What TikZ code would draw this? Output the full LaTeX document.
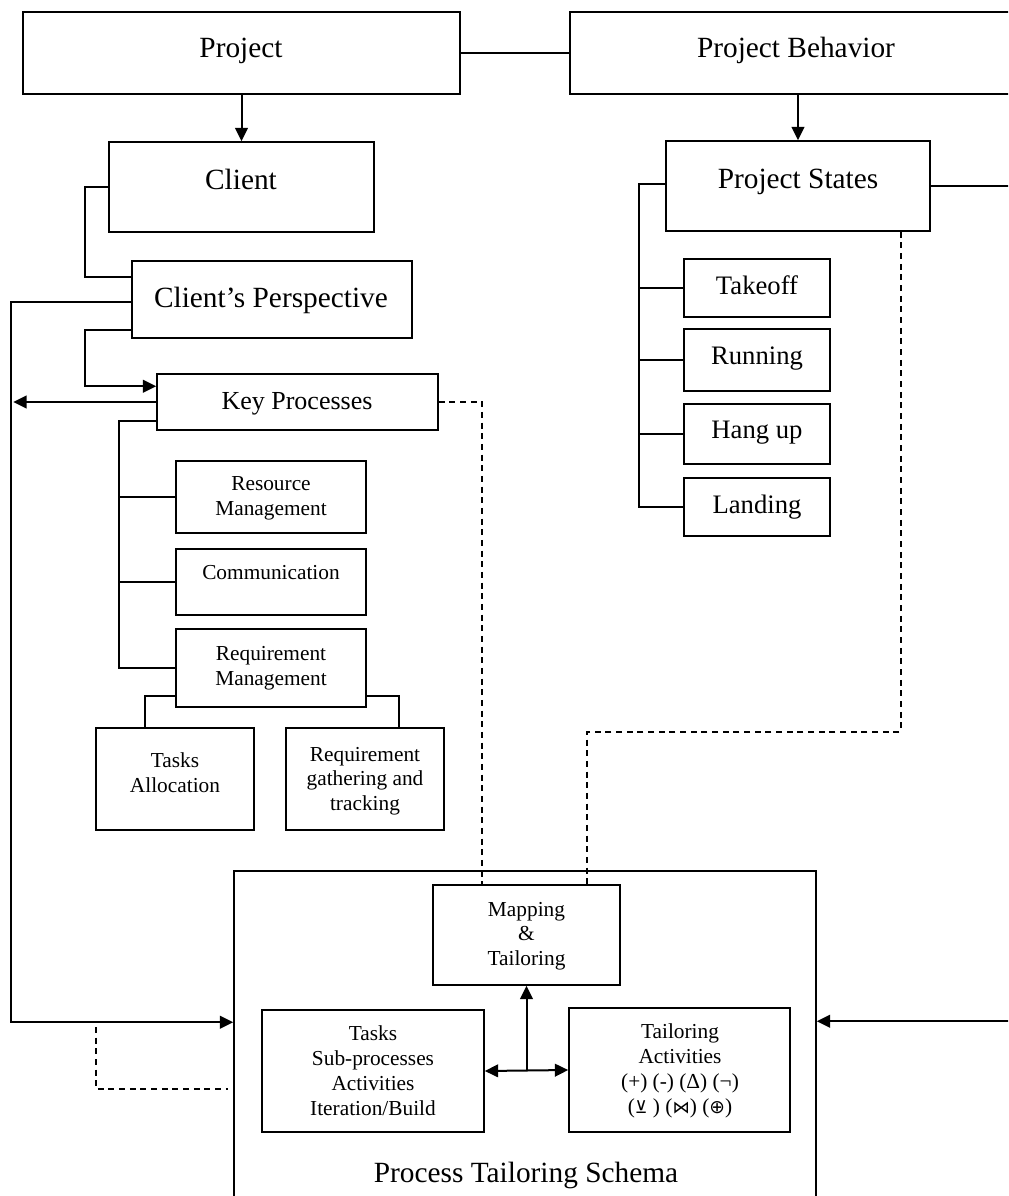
\documentclass[tikz,border=0pt]{standalone}
\usepackage{fontspec}
\setmainfont{Liberation Serif}
\newfontfamily\symfont{DejaVu Sans}
\usetikzlibrary{arrows.meta,calc}
\begin{document}
\begin{tikzpicture}[x=0.75pt,y=-0.75pt,
  box/.style={draw,line width=1.2pt,inner sep=0pt},
  sz/.style 2 args={minimum width=#1*0.75pt,minimum height=#2*0.75pt},
  txt/.style={anchor=base,inner sep=0pt,align=center},
  big/.style={font=\fontsize{22}{26}\selectfont},
  mid/.style={font=\fontsize{20}{24}\selectfont},
  sml/.style={font=\fontsize{16}{18.2}\selectfont},
  ln/.style={line width=1.4pt},
  arr/.style={line width=1.5pt,-{Triangle[length=10pt,width=9.5pt]}},
  darr/.style={line width=1.5pt,{Triangle[length=10pt,width=9.5pt]}-{Triangle[length=10pt,width=9.5pt]}},
  dsh/.style={line width=1.1pt,dash pattern=on 4.5pt off 3.5pt},
]
\useasboundingbox (0,0) rectangle (1008,1196);
\clip (0,0) rectangle (1008,1196);
\fill[white] (0,0) rectangle (1008,1196);

% boxes
\node[box,sz={437}{82}]  (project) at (241.5,53) {};
\node[box,sz={456}{82}]  (pb)      at (798,53) {};
\node[box,sz={265}{90}]  (client)  at (241.5,187) {};
\node[box,sz={280}{77}]  (cp)      at (272,299.5) {};
\node[box,sz={281}{56}]  (kp)      at (297.5,402) {};
\node[box,sz={190}{72}]  (res)     at (271,497) {};
\node[box,sz={190}{66}]  (comm)    at (271,582) {};
\node[box,sz={190}{78}]  (rqm)     at (271,668) {};
\node[box,sz={158}{102}] (ta)      at (175,779) {};
\node[box,sz={158}{102}] (rgt)     at (365,779) {};
\node[box,sz={264}{90}]  (ps)      at (798,186) {};
\node[box,sz={146}{58}]  (take)    at (757,288) {};
\node[box,sz={146}{62}]  (run)     at (757,360) {};
\node[box,sz={146}{60}]  (hang)    at (757,434) {};
\node[box,sz={146}{58}]  (land)    at (757,507) {};
\node[box,sz={582}{345}] (pts)     at (525,1043.5) {};
\node[box,sz={187}{100}] (map)     at (526.5,935) {};
\node[box,sz={222}{122}] (tasks)   at (373,1071) {};
\node[box,sz={221}{124}] (tact)    at (679.5,1070) {};

% texts (base = baseline of the last line)
\node[txt,big] (tproject) at (241,57) {Project};
\node[txt,big] (tpb) at (796,57) {Project Behavior};
\node[txt,big] (tclient) at (241,189) {Client};
\node[txt,big] (tcp) at (271,307) {Client’s Perspective};
\node[txt,font=\fontsize{19.5}{23}\selectfont] (tkp) at (297,409) {Key Processes};
\node[txt,sml] (tres) at (271,515) {Resource\\Management};
\node[txt,sml] (tcomm) at (271,579) {Communication};
\node[txt,sml] (trqm) at (271,685) {Requirement\\Management};
\node[txt,sml] (tta) at (175,792) {Tasks\\Allocation};
\node[txt,sml] (trgt) at (365,810) {Requirement\\gathering and\\tracking};
\node[txt,big] (tps) at (798,188) {Project States};
\node[txt,mid] (ttake) at (757,294) {Takeoff};
\node[txt,mid] (trun) at (757,364) {Running};
\node[txt,mid] (thang) at (757,438) {Hang up};
\node[txt,mid] (tland) at (757,513) {Landing};
\node[txt,sml] (tmap) at (526.5,965) {Mapping\\\&\\Tailoring};
\node[txt,font=\fontsize{16}{18.75}\selectfont] (ttasks) at (373,1115) {Tasks\\Sub-processes\\Activities\\Iteration/Build};
\node[txt,font=\fontsize{16}{18.75}\selectfont] (ttact) at (680,1113) {Tailoring\\Activities\\(+) (-) (Δ) (¬)\\({\symfont\fontsize{13}{15}\selectfont ⊻} ) ({\symfont\fontsize{13}{15}\selectfont ⋈}) ({\symfont\fontsize{14}{15}\selectfont ⊕})};
\node[txt,big] (tpts) at (526,1182) {Process Tailoring Schema};

% connectors
\draw[ln] (project.east) -- (pb.west);
\draw[arr] (project.south) -- (client.north);
\draw[arr] (pb.south) -- (ps.north);
\draw[ln] (client.west) -- ++(-23,0) |- ($(cp.north west)+(0,17)$);
\draw[arr] ($(cp.north west)+(0,42)$) -| ($(pts.north west)+(-222,152)$) -- ($(pts.north west)+(0,152)$);
\draw[arr] ($(cp.south west)+(0,-9)$) -- ++(-46,0) |- ($(kp.north west)+(0,13)$);
\draw[arr] (kp.west) -- ++(-143,0);
\draw[ln] ($(kp.south west)+(0,-10)$) -| ($(rqm.west)+(-56,0)$) -- (rqm.west);
\draw[ln] (res.west) -- ++(-56,0);
\draw[ln] (comm.west) -- ++(-56,0);
\draw[ln] ($(rqm.south west)+(0,-12)$) -| ($(ta.north west)+(50,0)$);
\draw[ln] ($(rqm.south east)+(0,-12)$) -| ($(rgt.north west)+(114,0)$);

\draw[ln] ($(ps.west)+(0,-2)$) -- ++(-26,0) |- (land.west);
\draw[ln] (take.west) -- ++(-44,0);
\draw[ln] (run.west) -- ++(-44,0);
\draw[ln] (hang.west) -- ++(-44,0);
\draw[arr] (ps.east) -- ++(90,0) |- ($(pts.north east)+(0,151)$);

\draw[dsh] (kp.east) -| ($(map.north west)+(50,0)$);
\draw[dsh] ($(ps.south east)+(-30,0)$) -- ++(0,500) -| ($(map.north west)+(155,0)$);
\coordinate (dstart) at (96,1027);
\draw[dsh] (dstart) |- ($(pts.north west)+(-5,219)$);

\draw[darr] (tasks.east) -- (tact.west);
\draw[arr] (tasks.east -| map.south) -- (map.south);
\end{tikzpicture}
\end{document}
